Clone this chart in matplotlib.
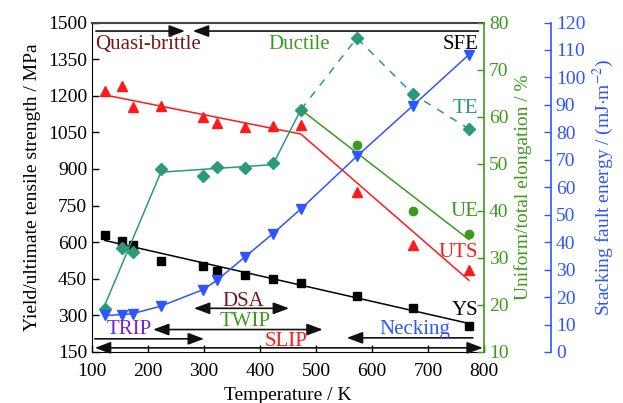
import matplotlib
matplotlib.use("Agg")
import matplotlib.pyplot as plt

plt.rcParams["font.family"] = ["Liberation Serif", "DejaVu Serif"]
plt.rcParams["mathtext.fontset"] = "stix"

# test temperatures (K)
temps = [123, 153, 173, 223, 298, 323, 373, 423, 473, 573, 673, 773]

# strength (MPa)
ys = [630, 603, 590, 521, 501, 483, 464, 449, 433, 381, 331, 256]
uts = [1220, 1240, 1153, 1156, 1112, 1088, 1071, 1074, 1078, 805, 590, 488]

# elongation (%)
te = [19.2, 32.1, 31.2, 48.9, 47.3, 49.2, 49.1, 50.2, 61.5, 76.7, 64.8, 57.4]
ue_temps = [573, 673, 773]
ue = [53.9, 40.0, 35.0]

# stacking fault energy (mJ/m^2)
sfe = [13.3, 13.6, 14.0, 16.7, 22.7, 26.1, 34.6, 43.1, 52.1, 71.3, 89.7, 108.3]

# trend lines
ys_fit_t = [123, 773]
ys_fit = [607, 267]
uts_fit_t = [123, 473, 773]
uts_fit = [1203, 1043, 444]
te_fit_t = [123, 223, 423, 473]
te_fit = [20.0, 48.2, 49.8, 61.5]
te_dash_t = [473, 573, 673, 773]
te_dash = [61.5, 76.7, 64.8, 57.4]
ue_fit_t = [473, 773]
ue_fit = [61.5, 33.9]

RED = "#ff1a1a"
TEAL = "#2a9a7a"
GREEN = "#3c9a1c"
BLUE = "#2f55ff"
MAROON = "#7a1616"
PURPLE = "#7a22d9"

fig = plt.figure(figsize=(6.23, 4.03), dpi=100)
ax = fig.add_axes([92 / 623, 51 / 403, 392 / 623, 329.5 / 403])
ax_el = ax.twinx()
ax_sfe = ax.twinx()

fs = 14

# strength
ax.plot(ys_fit_t, ys_fit, color="black", lw=1.1)
ax.plot(temps, ys, "s", color="black", ms=6)
ax.plot(uts_fit_t, uts_fit, color=RED, lw=1.1)
ax.plot(temps, uts, "^", color=RED, ms=7.5)

# elongation
ax_el.plot(te_fit_t, te_fit, color=TEAL, lw=1.1)
ax_el.plot(te_dash_t, te_dash, color=TEAL, lw=1.1, ls=(0, (5, 5)))
ax_el.plot(temps, te, "D", color=TEAL, ms=6)
ax_el.plot(ue_fit_t, ue_fit, color=GREEN, lw=1.1)
ax_el.plot(ue_temps, ue, "o", color=GREEN, ms=6)

# SFE
ax_sfe.plot(temps, sfe, "-v", color=BLUE, lw=1.1, ms=7.5)

ax.set_xlim(100, 800)
ax.set_ylim(150, 1500)
ax_el.set_ylim(10, 80)
ax_sfe.set_ylim(0, 120)
ax.set_xticks(range(100, 801, 100))
ax.set_yticks(range(150, 1501, 150))
ax_el.set_yticks(range(10, 81, 10))
ax_sfe.set_yticks(range(0, 121, 10))

ax.set_xlabel("Temperature / K", fontsize=fs, labelpad=5)
ax.set_ylabel("Yield/ultimate tensile strength / MPa", fontsize=fs, labelpad=5)
ax_el.set_ylabel("Uniform/total elongation / %", fontsize=fs, color=GREEN, labelpad=4)
ax_sfe.set_ylabel(r"Stacking fault energy / (mJ$\cdot$m$^{-2}$)", fontsize=fs,
                  color=BLUE, labelpad=4)

ax.tick_params(direction="in", length=5, labelsize=fs, width=1)
ax.tick_params(axis="x", pad=8)
ax_el.tick_params(axis="y", direction="in", length=5, labelsize=fs,
                  colors=GREEN, width=1)
ax_sfe.tick_params(axis="y", direction="in", length=5, labelsize=fs,
                   colors=BLUE, width=1)

for a in (ax_el, ax_sfe):
    for s in ("left", "top", "bottom"):
        a.spines[s].set_visible(False)
ax.spines["right"].set_visible(False)
ax.spines["top"].set_color("#444444")
ax.spines["top"].set_linewidth(1.5)
ax_el.spines["right"].set_color(GREEN)
ax_el.spines["right"].set_linewidth(1.2)
ax_sfe.spines["right"].set_position(("axes", 1 + 67 / 392))
ax_sfe.spines["right"].set_color(BLUE)
ax_sfe.spines["right"].set_linewidth(1.2)

# regime arrows
def arrow(x0, x1, y, style):
    ax.annotate("", xy=(x1, y), xytext=(x0, y), annotation_clip=False,
                arrowprops=dict(arrowstyle=style + ",head_length=0.8,head_width=0.3",
                                color="#111111", lw=1.2, mutation_scale=12,
                                shrinkA=0, shrinkB=0))

arrow(107, 266, 1465, "-|>")
arrow(790, 280, 1465, "-|>")
arrow(282, 452, 329, "<|-|>")
arrow(209, 512, 242, "<|-|>")
arrow(105, 300, 204, "-|>")
arrow(780, 555, 208, "-|>")
arrow(105, 798, 167, "<|-|>")

labels = [
    ("Quasi-brittle", 105, 1390, "left", MAROON),
    ("Ductile", 470, 1390, "center", GREEN),
    ("SFE", 790, 1390, "right", "black"),
    ("TE", 790, 1130, "right", TEAL),
    ("UE", 790, 708, "right", GREEN),
    ("UTS", 790, 538, "right", RED),
    ("YS", 790, 303, "right", "black"),
    ("DSA", 370, 337, "center", MAROON),
    ("TWIP", 373, 256, "center", GREEN),
    ("TRIP", 166, 224, "center", PURPLE),
    ("SLIP", 446, 174, "center", RED),
    ("Necking", 677, 224, "center", BLUE),
]
for txt, x, y, ha, c in labels:
    ax.text(x, y, txt, ha=ha, va="baseline", color=c, fontsize=15)

fig.savefig("out.png", dpi=100)
